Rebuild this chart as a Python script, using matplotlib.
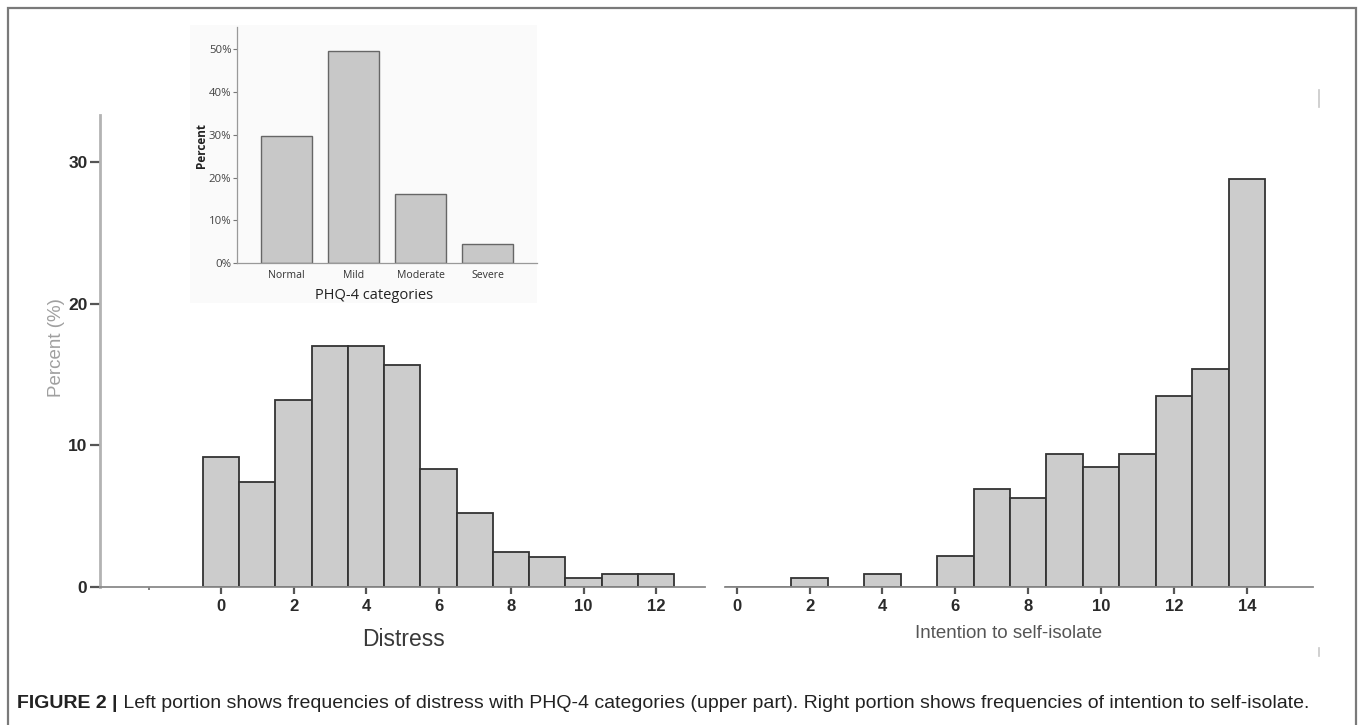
import matplotlib
matplotlib.use("Agg")
import matplotlib.pyplot as plt
from matplotlib.patches import Rectangle
from matplotlib.lines import Line2D
import numpy as np

# ---------------- data ----------------
distress_scores = [0, 1, 2, 3, 4, 5, 6, 7, 8, 9, 10, 11, 12]
distress_pct = [9.2, 7.4, 13.2, 17.0, 17.0, 15.7, 8.35, 5.2, 2.5, 2.1, 0.6, 0.9, 0.9]

isolate_scores = [0, 1, 2, 3, 4, 5, 6, 7, 8, 9, 10, 11, 12, 13, 14]
isolate_pct = [0.0, 0.0, 0.66, 0.0, 0.94, 0.0, 2.2, 6.9, 6.25, 9.4, 8.45, 9.4, 13.5, 15.4, 28.8]

phq_categories = ["Normal", "Mild", "Moderate", "Severe"]
phq_pct = [29.8, 49.5, 16.1, 4.6]

main_yticks = [0, 10, 20, 30]
distress_xticks = [0, 2, 4, 6, 8, 10, 12]
isolate_xticks = [0, 2, 4, 6, 8, 10, 12, 14]
inset_yticks = [0, 10, 20, 30, 40, 50]

caption_bold = "FIGURE 2 |"
caption_text = (" Left portion shows frequencies of distress with PHQ-4 categories "
                "(upper part). Right portion shows frequencies of intention to self-isolate.")

# ---------------- figure ----------------
W, H = 1360, 725
fig = plt.figure(figsize=(W / 100, H / 100), dpi=100)
fig.patch.set_facecolor("white")


def fx(px):
    return px / W


def fy(py):
    return 1 - py / H


# figure border
fig.add_artist(Rectangle((fx(8), -0.05), fx(1356) - fx(8), fy(8) + 0.05,
                         transform=fig.transFigure, fill=False,
                         edgecolor="#7a7a7a", linewidth=1.6, zorder=-2))

BAR_FACE = "#cccccc"
BAR_EDGE = "#333333"
MAIN_FONT = "Liberation Sans"

y_top = (587 - 115) / 14.17

# ---- left histogram (Distress) ----
axL = fig.add_axes([fx(100), fy(587), fx(705) - fx(100), fy(115) - fy(587)])
axL.bar(distress_scores, distress_pct, width=1.0, color=BAR_FACE,
        edgecolor=BAR_EDGE, linewidth=1.3, zorder=2)
axL.set_xlim((100 - 221) / 36.25, (705 - 221) / 36.25)
axL.set_ylim(0, y_top)
axL.set_xticks(distress_xticks)
axL.set_xticks([-2], minor=True)
axL.set_yticks(main_yticks)

# ---- right histogram (Intention to self-isolate) ----
axR = fig.add_axes([fx(725), fy(587), fx(1313) - fx(725), fy(115) - fy(587)])
axR.bar(isolate_scores, isolate_pct, width=1.0, color=BAR_FACE,
        edgecolor=BAR_EDGE, linewidth=1.3, zorder=2)
axR.set_xlim((725 - 736.7) / 36.44, (1313 - 736.7) / 36.44)
axR.set_ylim(0, y_top)
axR.set_xticks(isolate_xticks)
axR.set_yticks([])

for ax in (axL, axR):
    ax.set_facecolor("none")
    for s in ("top", "right"):
        ax.spines[s].set_visible(False)
    ax.spines["bottom"].set_color("#8a8a8a")
    ax.spines["bottom"].set_linewidth(1.3)
    ax.tick_params(axis="x", length=5, width=1.6, color="#555555", pad=3.5,
                   labelsize=12, labelcolor="#2a2a2a")
    ax.tick_params(axis="x", which="minor", length=2, width=1.3, color="#777777")
    for lab in ax.get_xticklabels():
        lab.set_fontweight("bold")
        lab.set_fontfamily(MAIN_FONT)

axR.spines["left"].set_visible(False)
axL.spines["left"].set_color("#b3b3b3")
axL.spines["left"].set_linewidth(2.0)
axL.tick_params(axis="y", length=7.5, width=1.6, color="#555555", pad=1.5,
                labelsize=12.5, labelcolor="#2a2a2a")
for lab in axL.get_yticklabels():
    lab.set_fontweight("bold")
    lab.set_fontfamily(MAIN_FONT)

axL.set_ylabel("Percent (%)", fontsize=13.5, color="#a0a0a0", family=MAIN_FONT)
axL.yaxis.set_label_coords((57 - 100) / 605, (587 - 348) / 472)
axL.yaxis.label.set_va("center")

axL.set_xlabel("Distress", fontsize=16.5, color="#3a3a3a", family=MAIN_FONT)
axL.xaxis.set_label_coords((403 - 100) / 605, (587 - 639) / 472)
axL.xaxis.label.set_va("center")

axR.set_xlabel("Intention to self-isolate", fontsize=13.5, color="#555555",
               family=MAIN_FONT)
axR.xaxis.set_label_coords((1009 - 725) / 588, (587 - 634) / 472)
axR.xaxis.label.set_va("center")

# ---- inset (PHQ-4 categories) ----
fig.add_artist(Rectangle((fx(190), fy(303)), fx(537) - fx(190), fy(25) - fy(303),
                         transform=fig.transFigure, facecolor="#fafafa",
                         edgecolor="none", zorder=-1))
axI = fig.add_axes([fx(237), fy(263.3), fx(537) - fx(237), fy(27) - fy(263.3)])
axI.set_zorder(3)
axI.set_facecolor("none")
xi = np.arange(len(phq_categories))
axI.bar(xi, phq_pct, width=0.755, color="#c8c8c8", edgecolor="#666666",
        linewidth=1.0, zorder=2)
axI.set_xlim(-0.74, 3.74)
axI.set_ylim(0, (263.3 - 27) / 4.28)
axI.set_yticks(inset_yticks)
axI.set_yticklabels([f"{v}%" for v in inset_yticks])
axI.set_xticks(xi)
axI.set_xticklabels(phq_categories)
for s in ("top", "right"):
    axI.spines[s].set_visible(False)
axI.spines["left"].set_color("#999999")
axI.spines["bottom"].set_color("#999999")
axI.spines["left"].set_linewidth(0.9)
axI.spines["bottom"].set_linewidth(0.9)
axI.tick_params(axis="y", length=3, width=0.8, color="#777777", pad=1,
                labelsize=8.2, labelcolor="#444444")
axI.tick_params(axis="x", length=0, pad=5, labelsize=7.6, labelcolor="#333333")
for lab in axI.get_xticklabels() + axI.get_yticklabels():
    lab.set_fontfamily("Open Sans")
axI.set_ylabel("Percent", fontsize=8.5, fontweight="bold", family="Open Sans",
               color="#222222")
axI.yaxis.set_label_coords((201.5 - 237) / 300, (263.3 - 145) / 236.3)
axI.yaxis.label.set_va("center")
axI.set_xlabel("PHQ-4 categories", fontsize=10.5, family="Open Sans",
               color="#222222")
axI.xaxis.set_label_coords((374 - 237) / 300, (263.3 - 296) / 236.3)
axI.xaxis.label.set_va("center")

# tiny scan marks near the right edge
for y0, y1 in ((90, 107), (648, 656)):
    fig.add_artist(Line2D([fx(1319), fx(1319)], [fy(y0), fy(y1)],
                          transform=fig.transFigure, color="#c8c8c8", linewidth=1.2))

# ---- caption ----
t1 = fig.text(fx(17), fy(703), caption_bold, fontsize=14, fontweight="bold",
              family=MAIN_FONT, color="#222222", va="center", ha="left")
fig.canvas.draw()
bb = t1.get_window_extent(renderer=fig.canvas.get_renderer())
fig.text(bb.x1 / W, fy(703), caption_text, fontsize=14, family=MAIN_FONT,
         color="#222222", va="center", ha="left")

fig.savefig("out.png", dpi=100, facecolor="white")
